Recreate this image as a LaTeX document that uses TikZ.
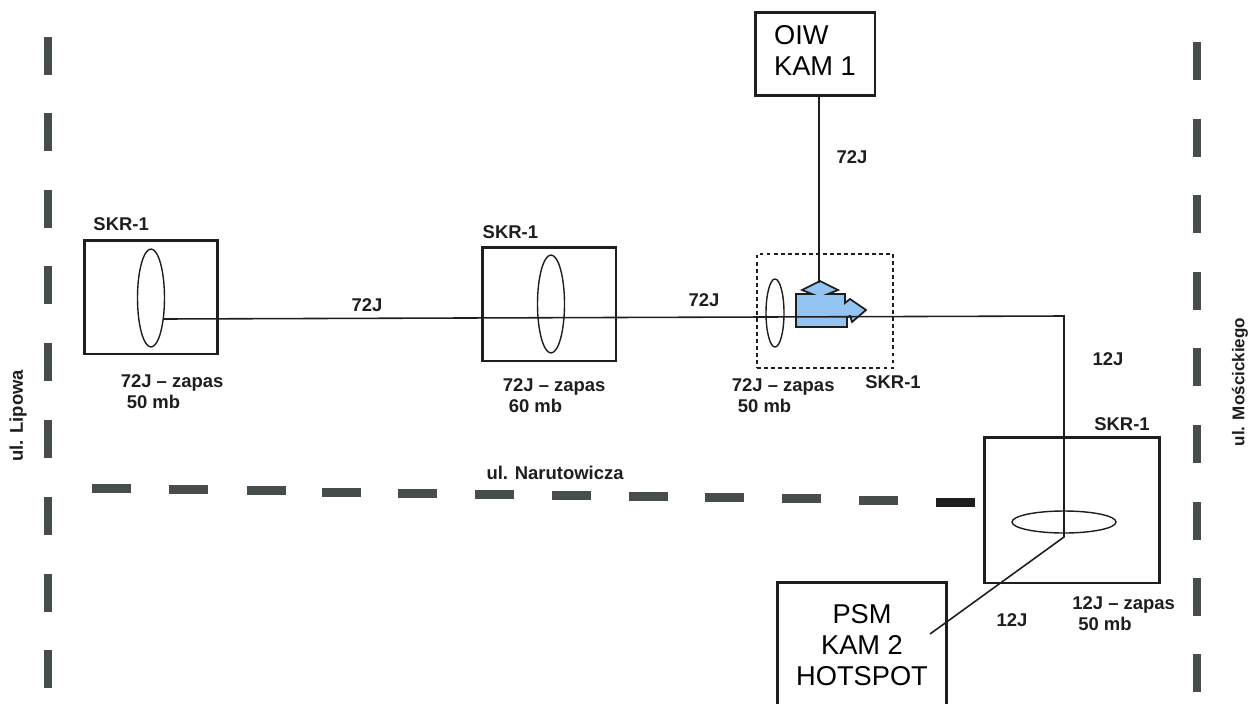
\documentclass[tikz,border=0pt]{standalone}
\usepackage{fontspec}
\setmainfont{Liberation Sans}
\usetikzlibrary{positioning, shapes.geometric}
\definecolor{inkA}{HTML}{1E1E1E}
\definecolor{roadA}{HTML}{474D4D}
\definecolor{blueA}{HTML}{93C4F2}
\tikzset{
  skrbox/.style={
    draw=inkA, line width=1.7pt, minimum width=#1
  },
  camera/.style={
    draw=inkA, line width=1.7pt, align=center, inner sep=0pt,
    font=\fontsize{15.5}{17.5}\selectfont
  },
  loop/.style={
    draw=inkA, line width=0.8pt, ellipse, inner sep=0pt
  },
  cable/.style={draw=inkA, line width=0.9pt},
  tag/.style={font=\fontsize{10.5}{12}\selectfont\bfseries, text=inkA, inner sep=0pt},
  note/.style={tag, align=left, anchor=north west},
  roadmark/.style={fill=roadA}
}
\begin{document}
\begin{tikzpicture}[x=0.02cm, y=-0.02cm]
  \useasboundingbox (0,0) rectangle (1250,703);
  \clip (0,0) rectangle (1250,703);

  % street edges
  \foreach \ypos in {37,113,190,266,343,420,497,574,650}
    \fill[roadmark] (44,\ypos) rectangle ++(8,38);
  \foreach \ypos in {42,119,195,272,348,425,502,578,654}
    \fill[roadmark] (1193,\ypos) rectangle ++(8,38);
  \foreach \xpos/\ypos in {92/484,169/485,247/486,322/488,398/489,475/490,
      552/491,629/492,705/493,782/494,859/496}
    \fill[roadmark] (\xpos,\ypos) rectangle ++(39,9);
  \fill[inkA] (936,498) rectangle ++(39,9);

  % chambers
  \node[skrbox=2.68cm, minimum height=2.28cm] (skrA) at (151,297) {};
  \node[skrbox=2.68cm, minimum height=2.28cm] (skrB) at (549,304) {};
  \node[draw=inkA, line width=1.6pt, dash pattern=on 2.2pt off 1.8pt, minimum width=2.72cm, minimum height=2.28cm] (skrC) at (825,311) {};
  \node[skrbox=3.5cm, minimum height=2.92cm] (skrD) at (1072,510) {};

  \node[loop, minimum width=0.54cm, minimum height=1.96cm] (loopA) at (151,298) {};
  \node[loop, minimum width=0.54cm, minimum height=1.96cm] (loopB) at (551,304) {};
  \node[loop, minimum width=0.36cm, minimum height=1.36cm] (loopC) at (775,313) {};
  \node[loop, minimum width=2.08cm, minimum height=0.44cm] (loopD) at (1064,522) {};

  % cameras
  \node[camera, minimum width=2.4cm, minimum height=1.68cm] (oiw) at (815,54)
    {\begin{tabular}{@{}l@{}}OIW\\KAM 1\end{tabular}};
  \node[camera, minimum width=3.38cm, minimum height=2.52cm] (psm) at (862,645)
    {PSM\\KAM 2\\HOTSPOT};

  % splice
  \draw[draw=inkA, line width=1pt, fill=blueA] (796,327) -- (796,294) -- (812,294)
    -- (802,290) -- (820,281) -- (838,290) -- (828,294) -- (845,294) -- (845,303)
    -- (850,299) -- (866,310) -- (852,322) -- (850,316) -- (847,317) -- (847,327) -- cycle;
  \coordinate (tee) at (819,283);

  \coordinate (bendA) at (1064,316);
  \coordinate (bendB) at (1064,537);
  \coordinate (feedA) at (164,319);
  \coordinate (feedB) at (930,634);
  \coordinate (camA) at (819,96);
  \draw[cable] (feedA) -- (bendA) -- (bendB) -- (feedB);
  \draw[cable] (camA) -- (tee);

  % labels
  \node[tag, above=4pt of skrA.north west, xshift=22pt] (skrlabelA) {SKR-1};
  \node[tag, above=3.6pt of skrB.north west, xshift=17pt] (skrlabelB) {SKR-1};
  \node[tag] (skrlabelC) at (893,382) {SKR-1};
  \node[tag] (skrlabelD) at (1122,424) {SKR-1};

  \node[note, below right=0.38cm and 0.76cm of skrA.south west] (spareA)
    {72J -- zapas\\\hspace{3.4pt}50 mb};
  \node[note, below right=0.32cm and 0.44cm of skrB.south west] (spareB)
    {72J -- zapas\\\hspace{3.4pt}60 mb};
  \node[note, below right=0.18cm and -0.48cm of skrC.south west] (spareC)
    {72J -- zapas\\\hspace{3.4pt}50 mb};
  \node[note, below right=0.24cm and 1.78cm of skrD.south west] (spareD)
    {12J -- zapas\\\hspace{3.4pt}50 mb};

  \node[tag] (cableA) at (367,305) {72J};
  \node[tag] (cableB) at (704,300) {72J};
  \node[tag] (cableC) at (852,157) {72J};
  \node[tag] (cableD) at (1108,359) {12J};
  \node[tag] (cableE) at (1012,620) {12J};

  \node[tag] (narutowicza) at (555,473) {ul. Narutowicza};
  \node[tag, rotate=90] (lipowa) at (18,416) {ul. Lipowa};
  \node[tag, rotate=90, font=\fontsize{9.7}{12}\selectfont\bfseries] (moscickiego) at (1240,382) {ul. Mościckiego};
\end{tikzpicture}
\end{document}
